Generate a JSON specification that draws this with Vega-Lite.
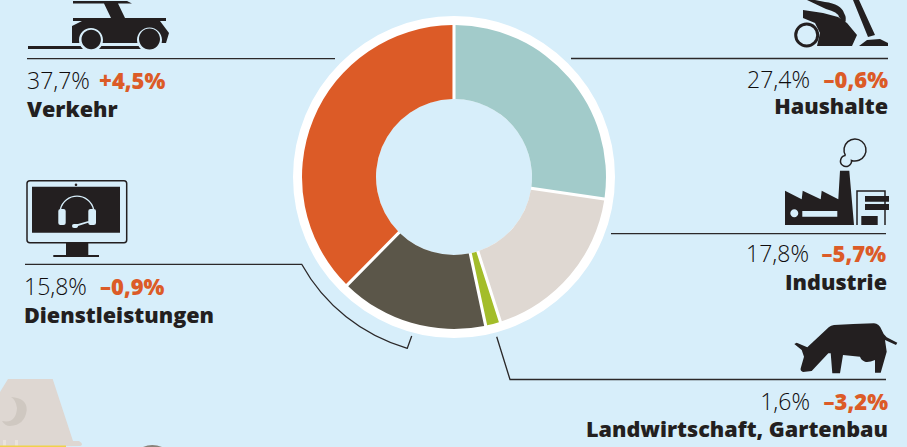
{"$schema":"https://vega.github.io/schema/vega-lite/v6.json","width":907,"height":447,"padding":0,"autosize":{"type":"fit","contains":"padding"},"background":"#d7eefa",
"datasets":{"sectors":[
{"sector":"Haushalte","rank":1,"share":27.4,"shareText":"27,4%","change":"–0,6%"},
{"sector":"Industrie","rank":2,"share":17.8,"shareText":"17,8%","change":"–5,7%"},
{"sector":"Landwirtschaft, Gartenbau","rank":3,"share":1.6,"shareText":"1,6%","change":"–3,2%"},
{"sector":"Dienstleistungen","rank":4,"share":15.8,"shareText":"15,8%","change":"–0,9%"},
{"sector":"Verkehr","rank":5,"share":37.7,"shareText":"37,7%","change":"+4,5%"}],
"one":[{"item":"deco"}]},
"data":{"name":"sectors"},
"layer":[
{"data":{"name":"one"},"mark":{"type":"point","filled":true,"opacity":1,"size":4,"fill":"#ded7d2","shape":"M8,379 L52.7,379 L73,441 L79,441 Q82,443 82,444 Q82,446 79,446 L0,447 L0,392 Z"},"encoding":{"x":{"value":0},"y":{"value":0}}},
{"data":{"name":"one"},"mark":{"type":"point","filled":true,"opacity":1,"size":4,"fill":"#cfc8c1","shape":"M11,397 Q27,398 26.7,410 Q25,425 10,426 Q5,426 2,421 Q16,424 17,408 Q16,400 11,397 Z"},"encoding":{"x":{"value":0},"y":{"value":0}}},
{"data":{"name":"one"},"mark":{"type":"point","filled":true,"opacity":1,"size":4,"fill":"#e9e3dd","shape":"M3,440 H6 V446 H3 Z M15,440 H18 V446 H15 Z"},"encoding":{"x":{"value":0},"y":{"value":0}}},
{"data":{"name":"one"},"mark":{"type":"point","filled":true,"opacity":1,"size":4,"fill":"#f0d24a","shape":"M0,445.5 H66 V447 H0 Z"},"encoding":{"x":{"value":0},"y":{"value":0}}},
{"data":{"name":"one"},"mark":{"type":"point","filled":true,"opacity":1,"size":4,"fill":"#8a8279","shape":"M143,447 Q152,443 162,447 Z"},"encoding":{"x":{"value":0},"y":{"value":0}}},
{"data":{"name":"one"},"mark":{"type":"arc","x":454,"y":177,"theta":0,"theta2":6.2832,"innerRadius":78,"outerRadius":161,"fill":"#ffffff"},"encoding":{}},
{"mark":{"type":"arc","x":454,"y":177,"innerRadius":78,"outerRadius":152,"padAngle":0.018},
"encoding":{"theta":{"field":"share","type":"quantitative","stack":true,"scale":{"domain":[0,100.3]}},"order":{"field":"rank","type":"ordinal"},
"color":{"field":"sector","type":"nominal","legend":null,"scale":{"domain":["Haushalte","Industrie","Landwirtschaft, Gartenbau","Dienstleistungen","Verkehr"],"range":["#a2cbca","#dfd8d2","#a3bd2a","#5b5649","#dc5b27"]}}}},
{"data":{"name":"one"},"mark":{"type":"point","filled":false,"opacity":1,"size":4,"stroke":"#2b2829","strokeWidth":1.3,"shape":"M27,58.7 H335 M571,58.5 H888 M611,233.7 H886 M496.7,336.7 L510,379.5 H886 M25,264.3 H301.7 A176,176 0 0 0 407.3,348.3 L411.7,336"},"encoding":{"x":{"value":0},"y":{"value":0}}},
{"data":{"name":"one"},"mark":{"type":"point","filled":true,"opacity":1,"size":4,"fill":"#231f20","shape":"M28,46 H145 V49 H28 Z M73,1 H127 L132,3.5 H118 L125,18 H166 V21 H160 L166,29 L169,33 L166,43 H72 V26 L82,21 H73 V18 H111 L104,3.5 H73 Z"},"encoding":{"x":{"value":0},"y":{"value":0}}},
{"data":{"name":"one"},"mark":{"type":"point","filled":true,"opacity":1,"size":4,"fill":"#d7eefa","shape":"M79,40 A12,12 0 1 1 103,40 A12,12 0 1 1 79,40 Z M137,40 A12.5,12.5 0 1 1 162,40 A12.5,12.5 0 1 1 137,40 Z"},"encoding":{"x":{"value":0},"y":{"value":0}}},
{"data":{"name":"one"},"mark":{"type":"point","filled":true,"opacity":1,"size":4,"fill":"#231f20","shape":"M81.5,39.5 A9.7,9.7 0 1 1 100.9,39.5 A9.7,9.7 0 1 1 81.5,39.5 Z M139,39 A10.5,10.5 0 1 1 160,39 A10.5,10.5 0 1 1 139,39 Z"},"encoding":{"x":{"value":0},"y":{"value":0}}},
{"data":{"name":"one"},"mark":{"type":"point","filled":true,"opacity":1,"size":4,"fill":"#231f20","shape":"M803,10 L823,13 L838,17 L847,23 L857,35 L852,46 L817,46 L820,33 L815,23 L803,18 Z M807,0 H815 L825,2 Q841,4 844,13 Q847,18 845,23 L839,17 Q838,12 826,9 Z M853,0 H859 L875,35 L868,37 Z M859,46 L867,40 L880,39 L888,43 V46 Z"},"encoding":{"x":{"value":0},"y":{"value":0}}},
{"data":{"name":"one"},"mark":{"type":"point","filled":false,"opacity":1,"size":4,"stroke":"#231f20","strokeWidth":3,"shape":"M795.7,35 A11,11 0 1 1 817.7,35 A11,11 0 1 1 795.7,35 Z"},"encoding":{"x":{"value":0},"y":{"value":0}}},
{"data":{"name":"one"},"mark":{"type":"point","filled":true,"opacity":1,"size":4,"fill":"#231f20","shape":"M785,190.7 L801.7,199.3 L802.7,190.7 L820.7,199.3 L821.7,190.7 L838.3,199.3 L840,170.7 H849.3 L854,225 H785 Z M865,196 H889 V201.7 H865 Z M865,204 H889 V210 H865 Z M861.3,216 H877.7 V225 H861.3 Z"},"encoding":{"x":{"value":0},"y":{"value":0}}},
{"data":{"name":"one"},"mark":{"type":"point","filled":true,"opacity":1,"size":4,"fill":"#d7eefa","shape":"M790.3,213.3 A4,4 0 1 1 798.3,213.3 A4,4 0 1 1 790.3,213.3 Z M802.3,211 H837.3 V216.7 H802.3 Z"},"encoding":{"x":{"value":0},"y":{"value":0}}},
{"data":{"name":"one"},"mark":{"type":"point","filled":false,"opacity":1,"size":4,"stroke":"#231f20","strokeWidth":1.5,"shape":"M845.47,155.53 A11,11 0 1 1 851.47,160.43 A5.5,5.5 0 1 1 845.47,155.53 M857,225 V191 H885 V225"},"encoding":{"x":{"value":0},"y":{"value":0}}},
{"data":{"name":"one"},"mark":{"type":"point","filled":true,"opacity":1,"size":4,"fill":"#231f20","shape":"M794.3,344 L796.7,342.7 L807.3,347.3 L829,327 Q831,325.3 834,325 L853.3,324 L874,323.3 Q879,323.3 881.7,330 Q883,334 886.7,337.3 L897.3,342.7 L896,345 L885,340 L886.7,351.7 L880.7,372.7 L875,372.7 L875,360 Q869,362.5 865,361.7 Q861,360 860,356.7 L843,355 L840,373.3 L832.3,373.3 L830.7,353.3 L828.3,353.3 L811.7,371 L803,372 Q800,371 800.7,368.3 L804,356.7 L801.7,350 Z"},"encoding":{"x":{"value":0},"y":{"value":0}}},
{"data":{"name":"one"},"mark":{"type":"point","filled":false,"opacity":1,"size":4,"stroke":"#231f20","strokeWidth":1.5,"shape":"M30,180.7 H124 Q126.7,180.7 126.7,183.5 V240 Q126.7,242.7 124,242.7 H30 Q27,242.7 27,240 V183.5 Q27,180.7 30,180.7 Z"},"encoding":{"x":{"value":0},"y":{"value":0}}},
{"data":{"name":"one"},"mark":{"type":"point","filled":true,"opacity":1,"size":4,"fill":"#231f20","shape":"M32,186.7 H120 V232.7 H32 Z M66,243 H88.3 V255 H99 V257 H53.3 V255 H66 Z M74.7,184.7 A1.3,1.3 0 1 1 77.3,184.7 A1.3,1.3 0 1 1 74.7,184.7 Z"},"encoding":{"x":{"value":0},"y":{"value":0}}},
{"data":{"name":"one"},"mark":{"type":"point","filled":true,"opacity":1,"size":4,"fill":"#d7eefa","shape":"M58.3,211 Q58.3,209 60.5,209 H63.5 Q65.7,209 65.7,211 V223 Q65.7,225 63.5,225 H60.5 Q58.3,225 58.3,223 Z M88.3,211 Q88.3,209 90.5,209 H93.7 Q96,209 96,211 V223 Q96,225 93.7,225 H90.5 Q88.3,225 88.3,223 Z M72,226 Q72,224 74,224 L78,224 L92,220 L92.8,221.3 L78,226 Q78,228 75,228 H74 Q72,228 72,226 Z"},"encoding":{"x":{"value":0},"y":{"value":0}}},
{"data":{"name":"one"},"mark":{"type":"point","filled":false,"opacity":1,"size":4,"stroke":"#d7eefa","strokeWidth":1.4,"shape":"M60.5,209 A17,17 0 0 1 93.5,209"},"encoding":{"x":{"value":0},"y":{"value":0}}},
{"transform":[{"filter":"datum.rank==5"}],"mark":{"type":"text","x":27,"y":89,"align":"left","font":"Open Sans","fontSize":23,"fontWeight":300,"color":"#0f0c0d"},"encoding":{"text":{"field":"shareText"}}},
{"transform":[{"filter":"datum.rank==5"}],"mark":{"type":"text","x":99,"y":89,"align":"left","font":"Open Sans","fontSize":22,"fontWeight":800,"color":"#dc5b27"},"encoding":{"text":{"field":"change"}}},
{"transform":[{"filter":"datum.rank==5"}],"mark":{"type":"text","x":27,"y":116.5,"align":"left","font":"Open Sans","fontSize":21.6,"fontWeight":800,"color":"#231f20"},"encoding":{"text":{"field":"sector"}}},
{"transform":[{"filter":"datum.rank==1"}],"mark":{"type":"text","x":810,"y":88,"align":"right","font":"Open Sans","fontSize":23,"fontWeight":300,"color":"#0f0c0d"},"encoding":{"text":{"field":"shareText"}}},
{"transform":[{"filter":"datum.rank==1"}],"mark":{"type":"text","x":888,"y":88,"align":"right","font":"Open Sans","fontSize":22,"fontWeight":800,"color":"#dc5b27"},"encoding":{"text":{"field":"change"}}},
{"transform":[{"filter":"datum.rank==1"}],"mark":{"type":"text","x":888,"y":114,"align":"right","font":"Open Sans","fontSize":21.6,"fontWeight":800,"color":"#231f20"},"encoding":{"text":{"field":"sector"}}},
{"transform":[{"filter":"datum.rank==2"}],"mark":{"type":"text","x":809,"y":262,"align":"right","font":"Open Sans","fontSize":23,"fontWeight":300,"color":"#0f0c0d"},"encoding":{"text":{"field":"shareText"}}},
{"transform":[{"filter":"datum.rank==2"}],"mark":{"type":"text","x":886,"y":262,"align":"right","font":"Open Sans","fontSize":22,"fontWeight":800,"color":"#dc5b27"},"encoding":{"text":{"field":"change"}}},
{"transform":[{"filter":"datum.rank==2"}],"mark":{"type":"text","x":887,"y":290,"align":"right","font":"Open Sans","fontSize":21.6,"fontWeight":800,"color":"#231f20"},"encoding":{"text":{"field":"sector"}}},
{"transform":[{"filter":"datum.rank==3"}],"mark":{"type":"text","x":810,"y":410,"align":"right","font":"Open Sans","fontSize":23,"fontWeight":300,"color":"#0f0c0d"},"encoding":{"text":{"field":"shareText"}}},
{"transform":[{"filter":"datum.rank==3"}],"mark":{"type":"text","x":888,"y":410,"align":"right","font":"Open Sans","fontSize":22,"fontWeight":800,"color":"#dc5b27"},"encoding":{"text":{"field":"change"}}},
{"transform":[{"filter":"datum.rank==3"}],"mark":{"type":"text","x":888,"y":437,"align":"right","font":"Open Sans","fontSize":21.6,"fontWeight":800,"color":"#231f20"},"encoding":{"text":{"field":"sector"}}},
{"transform":[{"filter":"datum.rank==4"}],"mark":{"type":"text","x":24,"y":295,"align":"left","font":"Open Sans","fontSize":23,"fontWeight":300,"color":"#0f0c0d"},"encoding":{"text":{"field":"shareText"}}},
{"transform":[{"filter":"datum.rank==4"}],"mark":{"type":"text","x":100,"y":295,"align":"left","font":"Open Sans","fontSize":22,"fontWeight":800,"color":"#dc5b27"},"encoding":{"text":{"field":"change"}}},
{"transform":[{"filter":"datum.rank==4"}],"mark":{"type":"text","x":24,"y":322.5,"align":"left","font":"Open Sans","fontSize":21.6,"fontWeight":800,"color":"#231f20"},"encoding":{"text":{"field":"sector"}}}
],
"config":{"view":{"stroke":null},"text":{"baseline":"alphabetic"}}}
